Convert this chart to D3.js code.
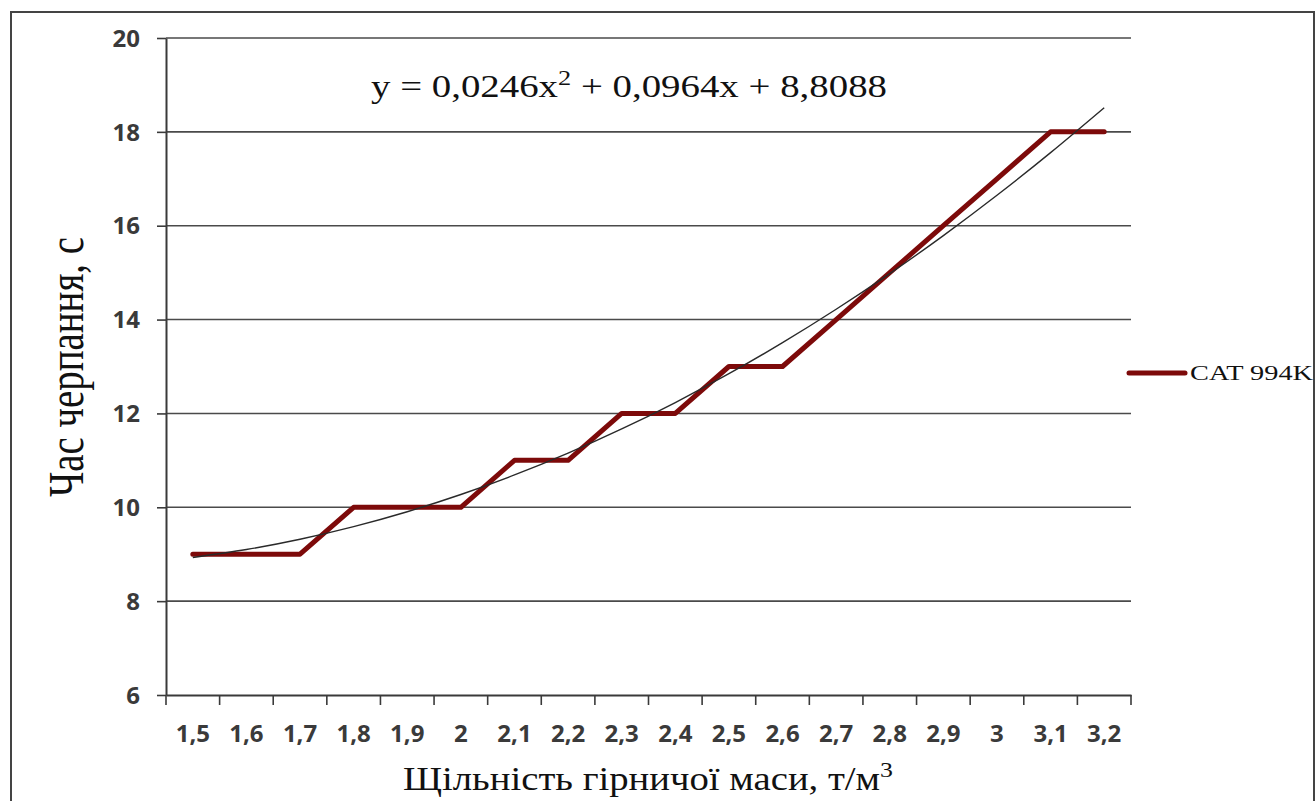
<!DOCTYPE html>
<html>
<head>
<meta charset="utf-8">
<script src="https://cdn.jsdelivr.net/npm/d3@7"></script>
<style>
  body { margin: 0; background: #fff; }
  svg { display: block; }
</style>
</head>
<body>
<svg id="svg" width="1316" height="801"></svg>
<script>
const width = 1316;
const height = 801;

// data
const densities = ['1,5', '1,6', '1,7', '1,8', '1,9', '2', '2,1', '2,2', '2,3', '2,4', '2,5', '2,6', '2,7', '2,8', '2,9', '3', '3,1', '3,2'];
const scoopTime = [9, 9, 9, 10, 10, 10, 11, 11, 12, 12, 13, 13, 14, 15, 16, 17, 18, 18];
const yTicks = [6, 8, 10, 12, 14, 16, 18, 20];
// polynomial trendline y = a*x^2 + b*x + c  (x = category number 1..18)
const trendCoef = [0.0246, 0.0964, 8.8088];
const seriesName = 'CAT 994K';

const lineColor = '#7d0a0a';
const axisColor = '#3a3a3a';
const gridColor = '#4a4a4a';
const tickFont = '"Open Sans", sans-serif';
const serif = '"Liberation Serif", "Times New Roman", serif';

const plot = { left: 166, right: 1131, top: 38, bottom: 695 };

const svg = d3.select('#svg');

// outer frame
svg.append('rect')
  .attr('x', 11).attr('y', 12)
  .attr('width', 1303).attr('height', 800)
  .attr('fill', 'none')
  .attr('stroke', '#444')
  .attr('stroke-width', 2);

const xScale = d3.scaleBand()
  .domain(densities)
  .range([plot.left, plot.right]);

const yScale = d3.scaleLinear()
  .domain([6, 20])
  .range([plot.bottom, plot.top]);

// grid lines
svg.append('g')
  .selectAll('line')
  .data(yTicks.filter(d => d > 6))
  .enter()
  .append('line')
  .attr('x1', plot.left)
  .attr('x2', plot.right)
  .attr('y1', d => yScale(d))
  .attr('y2', d => yScale(d))
  .attr('stroke', gridColor)
  .attr('stroke-width', 1.6);

// y axis
const yAxis = d3.axisLeft(yScale)
  .tickValues(yTicks)
  .tickSize(9)
  .tickPadding(17)
  .tickSizeOuter(0)
  .tickFormat(d3.format('d'));

const yg = svg.append('g')
  .attr('transform', 'translate(' + plot.left + ',0)')
  .call(yAxis);
yg.select('.domain').attr('stroke', axisColor).attr('stroke-width', 2);
yg.selectAll('.tick line').attr('stroke', axisColor).attr('stroke-width', 1.6);
yg.selectAll('.tick text')
  .attr('fill', '#3a3a3a')
  .attr('dy', '0.34em')
  .style('font-family', tickFont)
  .style('font-weight', 'bold')
  .style('font-size', '24px');

// x axis: labels at category centres, ticks at category boundaries
const xAxis = d3.axisBottom(xScale)
  .tickSize(0)
  .tickSizeOuter(0);

const xg = svg.append('g')
  .attr('transform', 'translate(0,' + plot.bottom + ')')
  .call(xAxis);
xg.select('.domain').attr('stroke', axisColor).attr('stroke-width', 2);
xg.selectAll('.tick text')
  .attr('y', 47)
  .attr('dy', null)
  .attr('fill', '#3a3a3a')
  .style('font-family', tickFont)
  .style('font-weight', 'bold')
  .style('font-size', '24px');

xg.selectAll('.bound')
  .data(d3.range(densities.length + 1))
  .enter()
  .append('line')
  .attr('x1', i => plot.left + i * xScale.step())
  .attr('x2', i => plot.left + i * xScale.step())
  .attr('y1', 0)
  .attr('y2', 10)
  .attr('stroke', axisColor)
  .attr('stroke-width', 1.6);

const cx = d => xScale(d) + xScale.bandwidth() / 2;

// data line
const line = d3.line()
  .x((d, i) => cx(densities[i]))
  .y(d => yScale(d));

svg.append('path')
  .attr('d', line(scoopTime))
  .attr('fill', 'none')
  .attr('stroke', lineColor)
  .attr('stroke-width', 5)
  .attr('stroke-linejoin', 'round')
  .attr('stroke-linecap', 'round');

// trend line
const trend = densities.map((c, i) => {
  const n = i + 1;
  return [cx(c), yScale(trendCoef[0] * n * n + trendCoef[1] * n + trendCoef[2])];
});
svg.append('path')
  .attr('d', d3.line().curve(d3.curveNatural)(trend))
  .attr('fill', 'none')
  .attr('stroke', '#2a2a2a')
  .attr('stroke-width', 1.4);

// equation
const eq = svg.append('text')
  .attr('x', 371).attr('y', 97)
  .attr('textLength', 516)
  .attr('lengthAdjust', 'spacingAndGlyphs')
  .style('font-family', serif)
  .style('font-size', '31px')
  .attr('fill', '#111');
eq.append('tspan').text('y = 0,0246x');
eq.append('tspan').attr('dy', -12).style('font-size', '21px').text('2');
eq.append('tspan').attr('dy', 12).text(' + 0,0964x + 8,8088');

// legend
svg.append('line')
  .attr('x1', 1129).attr('x2', 1185)
  .attr('y1', 373).attr('y2', 373)
  .attr('stroke', lineColor)
  .attr('stroke-width', 5)
  .attr('stroke-linecap', 'round');
svg.append('text')
  .attr('x', 1190).attr('y', 380)
  .attr('textLength', 123)
  .attr('lengthAdjust', 'spacingAndGlyphs')
  .style('font-family', serif)
  .style('font-size', '21px')
  .attr('fill', '#111')
  .text(seriesName);

// axis titles
const xt = svg.append('text')
  .attr('x', 403).attr('y', 790)
  .attr('textLength', 490)
  .attr('lengthAdjust', 'spacingAndGlyphs')
  .style('font-family', serif)
  .style('font-size', '33px')
  .attr('fill', '#111');
xt.append('tspan').text('Щільність гірничої маси, т/м');
xt.append('tspan').attr('dy', -13).style('font-size', '22px').text('3');

svg.append('text')
  .attr('transform', 'translate(83,367) rotate(-90)')
  .attr('text-anchor', 'middle')
  .attr('textLength', 260)
  .attr('lengthAdjust', 'spacingAndGlyphs')
  .style('font-family', serif)
  .style('font-size', '50px')
  .attr('fill', '#111')
  .text('Час черпання, с');
</script>
</body>
</html>
